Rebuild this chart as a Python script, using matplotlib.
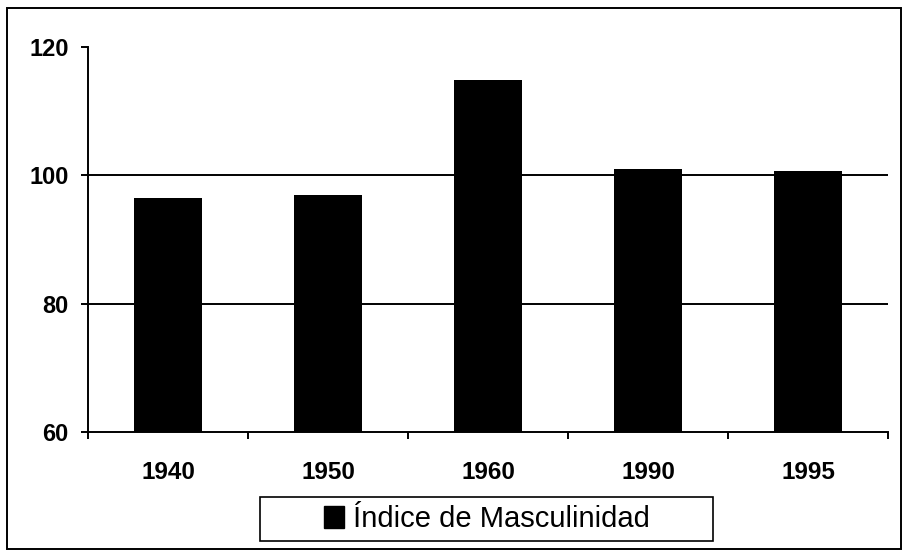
"""Indice de masculinidad por año censal - bar chart."""

import matplotlib

matplotlib.use("Agg")
import matplotlib.pyplot as plt
from matplotlib.patches import Patch, Rectangle

years = ["1940", "1950", "1960", "1990", "1995"]
indice = [96.4, 97.0, 114.8, 101.0, 100.7]
y_ticks = [60, 80, 100, 120]
grid_values = [80, 100]
legend_label = "Índice de Masculinidad"

plt.rcParams["font.family"] = ["Liberation Sans", "DejaVu Sans"]

fig = plt.figure(figsize=(9.04, 5.55), dpi=100)
ax = fig.add_axes([88 / 904, 1 - 432 / 555, 800 / 904, 385 / 555])

x = list(range(len(years)))
ax.bar(x, [v - 60 for v in indice], bottom=60, width=0.42, color="black", zorder=3)

for g in grid_values:
    ax.axhline(g, color="black", linewidth=1.4, zorder=2)

ax.set_xlim(-0.5, len(years) - 0.5)
ax.set_ylim(60, 120)
ax.set_yticks(y_ticks)
ax.set_yticklabels([str(t) for t in y_ticks], fontsize=17, fontweight="bold")
ax.set_xticks(x)
ax.set_xticklabels(years, fontsize=17.5, fontweight="bold")
ax.set_xticks([i - 0.5 for i in range(len(years) + 1)], minor=True)

ax.tick_params(axis="y", direction="out", length=5, width=1.4, pad=9)
ax.tick_params(axis="x", which="major", length=0, pad=21)
ax.tick_params(axis="x", which="minor", direction="out", length=5, width=1.4)

for side in ["top", "right"]:
    ax.spines[side].set_visible(False)
for side in ["left", "bottom"]:
    ax.spines[side].set_linewidth(1.4)

handle = Patch(facecolor="black", edgecolor="black", label=legend_label)
fig.legend(
    handles=[handle],
    loc="center",
    bbox_to_anchor=(487 / 904, 1 - 519 / 555),
    fontsize=21,
    frameon=False,
    handlelength=0.7,
    handleheight=0.75,
    handletextpad=0.3,
    borderpad=0.25,
    borderaxespad=0,
)

# legend box, wider than the entry like in the original
fig.patches.append(
    Rectangle((260 / 904, 1 - 541 / 555), 453 / 904, 44 / 555,
              transform=fig.transFigure, fill=False, edgecolor="black", linewidth=1.2)
)

# outer border of the chart area
fig.patches.append(
    Rectangle((7 / 904, 1 - 549 / 555), 894 / 904, 541 / 555,
              transform=fig.transFigure, fill=False, edgecolor="black", linewidth=1.4)
)

fig.savefig("out.png", dpi=100)
plt.close(fig)
